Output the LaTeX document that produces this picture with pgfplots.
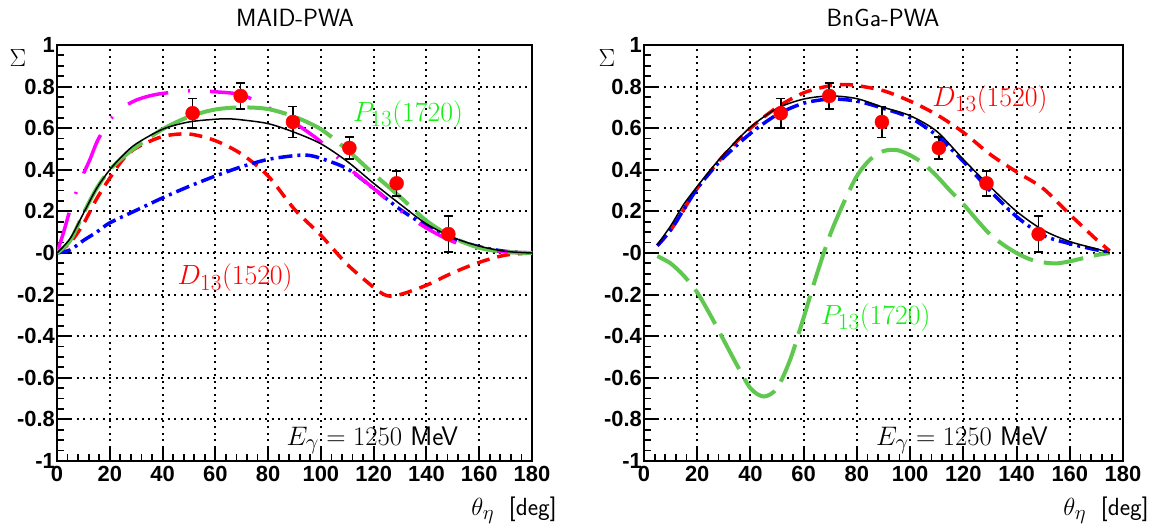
\documentclass[border=0pt]{standalone}
\usepackage[no-math]{fontspec}
\usepackage{graphicx}
\usepackage{pgfplots}
\usepackage{pgfplotstable}
\pgfplotsset{compat=1.18}
\newfontfamily\helv{Liberation Sans}
\definecolor{lgreen}{RGB}{96,200,80}
\definecolor{tgreen}{RGB}{20,240,20}
\definecolor{mag}{RGB}{255,0,255}

\pgfplotstableread{
x y e
51.4 0.672 0.07
69.6 0.755 0.062
89.4 0.630 0.075
110.8 0.505 0.053
128.7 0.335 0.060
148.3 0.091 0.086
}\datapts

% MAID curves
\pgfplotstableread{
x y
0 0
5 0.07
10 0.19
15 0.31
20 0.40
25 0.47
30 0.525
40 0.595
50 0.63
60 0.643
65 0.645
70 0.64
80 0.622
90 0.58
100 0.525
110 0.44
120 0.335
130 0.235
140 0.14
150 0.075
160 0.033
170 0.008
180 0
}\maidblack

\pgfplotstableread{
x y
0 0
5 0.06
10 0.19
15 0.31
20 0.40
25 0.46
30 0.51
40 0.595
50 0.655
60 0.69
70 0.70
80 0.692
90 0.655
100 0.595
110 0.495
120 0.38
130 0.27
140 0.155
150 0.075
160 0.025
170 0.005
180 0
}\maidgreen

\pgfplotstableread{
x y
0 0
2.5 0.10
5 0.21
7.5 0.30
10 0.38
12.5 0.45
15 0.53
17.5 0.59
20 0.64
25 0.70
30 0.735
35 0.755
40 0.767
50 0.78
60 0.775
70 0.76
80 0.70
90 0.625
100 0.535
110 0.415
120 0.31
130 0.205
140 0.12
150 0.055
160 0.02
170 0.005
180 0
}\maidmag

\pgfplotstableread{
x y
0 0
5 0.015
10 0.06
15 0.10
20 0.145
30 0.205
40 0.265
50 0.32
60 0.37
70 0.415
80 0.45
90 0.468
95 0.47
100 0.455
110 0.405
120 0.31
130 0.21
140 0.13
150 0.07
160 0.03
170 0.008
180 0
}\maidblue

\pgfplotstableread{
x y
0 0
5 0.05
10 0.14
15 0.26
20 0.36
25 0.45
30 0.505
40 0.56
50 0.572
60 0.54
70 0.475
80 0.37
90 0.21
100 0.085
110 -0.055
120 -0.165
125 -0.205
130 -0.20
140 -0.155
150 -0.095
160 -0.045
170 -0.01
180 0
}\maidred

% BnGa curves
\pgfplotstableread{
x y
5 0.04
10 0.13
15 0.235
20 0.32
25 0.40
30 0.475
40 0.605
50 0.695
60 0.74
70 0.755
80 0.742
90 0.70
100 0.66
110 0.585
120 0.45
130 0.32
140 0.20
150 0.11
160 0.055
170 0.02
175 0
}\bngablack

\pgfplotstableread{
x y
5 0.035
10 0.11
15 0.21
20 0.31
25 0.39
30 0.46
40 0.575
50 0.665
60 0.72
70 0.74
80 0.73
90 0.695
100 0.65
110 0.565
120 0.44
130 0.30
140 0.175
150 0.085
160 0.045
170 0.015
175 0.005
}\bngablue

\pgfplotstableread{
x y
5 0.035
10 0.11
15 0.21
20 0.31
30 0.47
40 0.60
50 0.70
60 0.77
70 0.805
75 0.81
80 0.805
90 0.78
100 0.73
110 0.665
120 0.58
130 0.475
140 0.39
150 0.31
160 0.185
165 0.125
170 0.065
175 0.01
}\bngared

\pgfplotstableread{
x y
5 -0.015
10 -0.05
15 -0.11
20 -0.19
25 -0.30
30 -0.42
35 -0.54
40 -0.65
45 -0.69
50 -0.65
55 -0.51
60 -0.31
65 -0.10
70 0.09
75 0.24
80 0.37
85 0.45
90 0.49
95 0.495
100 0.47
105 0.43
110 0.37
115 0.30
120 0.235
125 0.16
130 0.09
135 0.04
140 0.0
145 -0.03
150 -0.045
155 -0.05
160 -0.04
165 -0.025
170 -0.01
175 0
}\bngagreen

\pgfplotsset{
  myax/.style={
    scale only axis, height=416bp,
    xmin=0, xmax=180, ymin=-1, ymax=1,
    xtick={0,20,40,60,80,100,120,140,160,180},
    ytick={-1,-0.8,-0.6,-0.4,-0.2,0,0.2,0.4,0.6,0.8,1},
    yticklabels={-1,-0.8,-0.6,-0.4,-0.2,-0,0.2,0.4,0.6,0.8,1},
    minor x tick num=4, minor y tick num=3,
    tick align=inside, xtick pos=left, ytick pos=left,
    major tick length=14bp, minor tick length=7bp,
    every major tick/.style={black, line width=2bp},
    every minor tick/.style={black, line width=1.8bp},
    grid=major,
    major grid style={black, line width=2bp, dash pattern=on 2bp off 4.5bp},
    axis line style={line width=2.2bp},
    ticklabel style={font=\helv\bfseries\fontsize{22}{22}\selectfont},
    yticklabel style={inner sep=2bp},
    xticklabel style={inner sep=5bp},
    /pgf/number format/assume math mode=true,
  },
  pts/.style={only marks, mark=*, mark size=7bp,
    mark options={fill=red, draw=red},
    error bars/.cd, y dir=both, y explicit,
    error bar style={black, line width=1.6bp},
    error mark options={black, rotate=90, mark size=4.5bp, line width=1.6bp}},
  cblack/.style={black, line width=1.5bp, smooth},
  cred/.style={red, line width=3.5bp, dash pattern=on 13bp off 8bp, smooth},
  cblue/.style={blue, line width=3.5bp, dash pattern=on 14bp off 5bp on 3bp off 5bp, smooth},
  cgreen/.style={lgreen, line width=4bp, dash pattern=on 40bp off 11bp, smooth},
  cmag/.style={mag, line width=3.5bp, dash pattern=on 42bp off 20bp on 2bp off 20bp, smooth},
}
\tikzset{
  lab/.style={inner sep=1bp, font=\fontsize{24.88}{28}\selectfont},
}
\newcommand{\lbl}[1]{\scalebox{1.12}{#1}}

\begin{document}
\begin{tikzpicture}
\path[use as bounding box] (0,0) rectangle (1151bp,526bp);

\begin{axis}[myax, width=475bp, at={(57bp,65bp)}, anchor=south west]
\addplot[cred] table[x=x,y=y]{\maidred};
\addplot[cblue] table[x=x,y=y]{\maidblue};
\addplot[cmag] table[x=x,y=y]{\maidmag};
\addplot[cgreen] table[x=x,y=y]{\maidgreen};
\addplot[cblack] table[x=x,y=y]{\maidblack};
\addplot[pts] table[x=x,y=y,y error=e]{\datapts};
\node[lab, text=tgreen] at (axis cs:133,0.665) {\lbl{$P_{13}(1720)$}};
\node[lab, text=red] at (axis cs:67.5,-0.12) {\lbl{$D_{13}(1520)$}};
\node[lab] at (axis cs:119.5,-0.9) {\scalebox{1.08}{$E_\gamma = 1250$ \sffamily MeV}};
\end{axis}

\begin{axis}[myax, width=479bp, at={(644bp,65bp)}, anchor=south west]
\addplot[cgreen] table[x=x,y=y]{\bngagreen};
\addplot[cred] table[x=x,y=y]{\bngared};
\addplot[cblue] table[x=x,y=y]{\bngablue};
\addplot[cblack] table[x=x,y=y]{\bngablack};
\addplot[pts] table[x=x,y=y,y error=e]{\datapts};
\node[lab, text=red] at (axis cs:130,0.74) {\lbl{$D_{13}(1520)$}};
\node[lab, text=tgreen] at (axis cs:87,-0.31) {\lbl{$P_{13}(1720)$}};
\node[lab] at (axis cs:119.5,-0.9) {\scalebox{1.08}{$E_\gamma = 1250$ \sffamily MeV}};
\end{axis}

\node[font=\sffamily\fontsize{25}{25}\selectfont] at (295bp,508bp) {MAID-PWA};
\node[font=\sffamily\fontsize{25}{25}\selectfont] at (883bp,508bp) {BnGa-PWA};
\node[inner sep=0pt, font=\fontsize{24.88}{28}\selectfont] at (18bp,468bp) {$\Sigma$};
\node[inner sep=0pt, font=\fontsize{24.88}{28}\selectfont] at (607bp,468bp) {$\Sigma$};
\node[font=\fontsize{24.88}{28}\selectfont] at (514bp,16bp) {$\theta_\eta$\ \ \sffamily [deg]};
\node[font=\fontsize{24.88}{28}\selectfont] at (1106bp,16bp) {$\theta_\eta$\ \ \sffamily [deg]};
\end{tikzpicture}
\end{document}
